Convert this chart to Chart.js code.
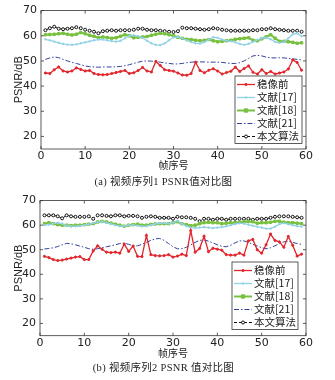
<!DOCTYPE html>
<html>
<head>
<meta charset="utf-8">
<script src="https://cdn.jsdelivr.net/npm/chart.js@4.4.1/dist/chart.umd.min.js"></script>
<style>
  html, body { margin: 0; padding: 0; background: #fff; }
  .panel { position: relative; width: 335px; height: 190px; }
  .panel canvas { display: block; }
  .caption {
    position: absolute; left: 0; width: 327px; text-align: center;
    font: 10.5px "Liberation Serif", "Noto Sans CJK SC", serif;
    line-height: 12px; color: #222; white-space: nowrap; letter-spacing: 0.3px;
  }
</style>
</head>
<body>
<div class="panel">
  <canvas id="chartA" width="335" height="190"></canvas>
  <div class="caption" style="top:176px">(a) 视频序列1 PSNR值对比图</div>
</div>
<div class="panel">
  <canvas id="chartB" width="335" height="190"></canvas>
  <div class="caption" style="top:172px">(b) 视频序列2 PSNR 值对比图</div>
</div>
<script>
// Frame numbers (x axis) and the five methods
const frames = [1, 2, 3, 4, 5, 6, 7, 8, 9, 10, 11, 12, 13, 14, 15, 16, 17, 18, 19, 20,
  21, 22, 23, 24, 25, 26, 27, 28, 29, 30, 31, 32, 33, 34, 35, 36, 37, 38, 39, 40,
  41, 42, 43, 44, 45, 46, 47, 48, 49, 50, 51, 52, 53, 54, 55, 56, 57, 58, 59];
const seriesNames = ["稳像前", "文献[17]", "文献[18]", "文献[21]", "本文算法"];
const xTicks = [0, 10, 20, 30, 40, 50, 60];
const yTicks = [20, 30, 40, 50, 60, 70];

// (a) video sequence 1
const seq1Before = [45.2, 45.0, 46.5, 47.6, 46.0, 45.6, 46.0, 47.2, 46.6, 46.0, 46.2, 45.0, 44.6, 44.5, 44.6, 45.0, 45.4, 45.8, 46.2, 45.0,
  45.3, 46.2, 47.4, 46.0, 45.6, 49.8, 48.2, 46.5, 46.2, 45.9, 45.2, 44.4, 44.3, 45.0, 49.5, 46.2, 45.3, 46.3, 46.9, 46.0,
  44.8, 45.4, 45.9, 47.5, 45.8, 47.0, 48.0, 45.5, 44.8, 46.5, 45.0, 45.8, 44.8, 45.2, 45.6, 46.8, 50.4, 49.4, 46.3];
const seq1Ref17 = [58.6, 58.2, 57.7, 57.2, 56.8, 56.5, 56.4, 56.6, 57.0, 57.4, 57.8, 58.2, 58.5, 58.5, 58.2, 57.9, 57.7, 58.0, 59.0, 60.0,
  60.2, 59.8, 59.2, 58.0, 57.0, 56.4, 56.3, 57.0, 58.2, 59.4, 59.6, 59.0, 58.2, 57.5, 57.0, 56.9, 57.5, 58.5, 59.4, 59.2,
  58.5, 58.0, 57.8, 57.4, 56.8, 56.4, 56.8, 57.6, 58.4, 59.0, 59.3, 58.6, 57.6, 57.2, 57.6, 59.0, 60.6, 61.0, 59.8];
const seq1Ref18 = [60.4, 60.5, 60.6, 60.8, 61.0, 60.6, 60.3, 60.6, 61.3, 60.8, 60.2, 59.8, 59.2, 59.5, 59.3, 59.0, 59.2, 59.8, 60.4, 60.0,
  59.2, 59.4, 59.5, 59.7, 60.2, 60.6, 61.0, 60.8, 60.4, 60.0, 59.4, 59.0, 58.6, 58.5, 58.2, 58.0, 58.2, 58.5, 58.0, 57.6,
  57.8, 58.0, 58.2, 58.6, 58.8, 59.0, 59.2, 58.2, 58.0, 58.8, 59.6, 60.4, 59.0, 57.8, 57.8, 57.6, 57.4, 57.0, 57.2];
const seq1Ref21 = [50.6, 51.2, 51.6, 51.3, 50.6, 50.0, 49.4, 49.0, 48.5, 48.0, 47.7, 47.6, 47.5, 47.6, 47.6, 47.6, 47.7, 47.8, 48.1, 48.5,
  49.0, 49.5, 49.9, 50.0, 49.9, 49.7, 49.5, 49.2, 49.0, 48.8, 48.8, 49.0, 49.3, 49.5, 49.6, 49.6, 49.6, 49.5, 49.5, 49.5,
  49.4, 49.2, 49.0, 49.0, 49.3, 50.0, 51.0, 52.0, 52.2, 52.0, 51.5, 51.2, 51.2, 51.3, 51.2, 51.0, 50.8, 50.6, 50.4];
const seq1Ours = [62.2, 63.0, 63.6, 62.8, 62.6, 62.8, 63.0, 63.4, 63.0, 62.4, 62.0, 61.6, 61.0, 61.8, 62.0, 62.2, 62.0, 62.2, 62.2, 62.2,
  62.4, 62.8, 62.8, 62.4, 62.2, 62.2, 62.0, 61.8, 61.6, 61.5, 61.8, 63.2, 63.0, 63.0, 62.8, 62.6, 62.4, 62.6, 63.0, 62.8,
  62.4, 62.2, 62.0, 62.0, 62.0, 62.0, 62.0, 62.2, 62.2, 62.6, 62.6, 63.0, 62.6, 62.4, 62.2, 62.0, 62.0, 62.0, 61.6];

// (b) video sequence 2
const seq2Before = [47.3, 46.8, 46.0, 45.6, 45.8, 46.2, 46.6, 47.0, 47.2, 46.0, 46.0, 49.5, 51.6, 50.2, 49.0, 48.8, 49.0, 48.6, 52.3, 49.3,
  51.5, 47.3, 47.2, 55.8, 48.0, 47.6, 47.5, 47.6, 48.0, 47.0, 47.4, 48.2, 47.6, 57.8, 49.0, 50.5, 55.5, 49.2, 50.6, 50.2,
  49.8, 48.0, 47.8, 47.8, 48.6, 47.8, 53.6, 54.2, 50.0, 48.6, 52.0, 56.4, 53.8, 53.2, 51.0, 55.4, 51.8, 47.4, 48.2];
const seq2Ref17 = [60.0, 60.2, 60.6, 61.0, 60.6, 59.8, 59.5, 59.5, 59.7, 60.0, 60.3, 60.8, 61.2, 61.4, 61.0, 60.5, 60.0, 59.6, 59.6, 60.0,
  60.0, 59.8, 59.5, 59.6, 60.0, 60.5, 60.8, 60.8, 60.6, 61.0, 61.8, 60.6, 59.6, 59.0, 58.8, 59.0, 59.2, 59.0, 58.8, 59.0,
  59.2, 59.5, 60.0, 60.4, 60.8, 60.6, 60.2, 59.8, 59.4, 59.0, 58.6, 58.6, 59.4, 60.4, 60.8, 60.4, 60.0, 59.6, 59.4];
const seq2Ref18 = [60.6, 61.0, 60.6, 60.2, 60.0, 60.0, 59.8, 60.0, 60.0, 60.2, 60.4, 60.6, 61.3, 61.5, 61.3, 60.8, 60.4, 60.0, 59.6, 60.0,
  60.2, 60.4, 60.0, 60.0, 60.3, 60.5, 60.6, 60.6, 60.6, 61.0, 61.4, 60.6, 60.2, 59.8, 60.0, 60.6, 61.0, 61.2, 61.0, 61.0,
  60.6, 60.8, 61.0, 61.0, 61.2, 61.4, 61.5, 61.4, 60.8, 61.0, 61.0, 61.2, 61.6, 61.6, 61.2, 61.0, 61.0, 60.8, 60.6];
const seq2Ref21 = [50.3, 50.5, 50.8, 51.3, 52.0, 52.6, 52.4, 52.0, 51.5, 51.0, 50.4, 50.2, 50.4, 50.8, 51.2, 51.6, 52.0, 52.5, 52.7, 52.2,
  51.6, 51.6, 52.2, 53.0, 53.8, 54.4, 54.6, 53.8, 52.5, 51.2, 50.4, 50.4, 51.0, 52.0, 53.0, 53.8, 54.0, 53.5, 52.8, 52.0,
  51.4, 51.2, 51.8, 52.8, 53.6, 53.6, 53.0, 52.2, 51.5, 50.8, 50.4, 50.8, 51.6, 52.5, 53.2, 53.4, 53.0, 52.5, 52.2];
const seq2Ours = [64.0, 64.0, 64.0, 63.6, 62.8, 64.0, 63.6, 63.4, 63.4, 63.4, 63.6, 62.6, 64.0, 64.0, 63.8, 63.6, 64.0, 64.0, 63.6, 63.8,
  63.8, 63.6, 63.0, 63.4, 63.6, 63.4, 63.0, 63.0, 63.0, 62.6, 63.4, 63.2, 63.2, 63.0, 62.6, 61.6, 62.6, 62.6, 62.2, 62.6,
  62.6, 62.2, 62.6, 62.6, 62.6, 62.6, 62.6, 62.2, 62.6, 62.6, 62.6, 63.0, 63.4, 63.6, 63.6, 63.6, 63.4, 63.2, 63.0];

// line look of each method (matlab style)
const looks = [
  { color: "#e1262c", width: 1.3, dash: [], marker: "circle", r: 1.1, fill: "#e1262c" },
  { color: "#92d2e6", width: 1.3, dash: [], marker: "circle", r: 0.8, fill: "#92d2e6" },
  { color: "#79c040", width: 2, dash: [], marker: "rect", r: 1.7, fill: "#79c040" },
  { color: "#34419a", width: 1, dash: [5, 2, 1.5, 2], marker: false, r: 0, fill: "#34419a" },
  { color: "#111111", width: 1, dash: [3, 2], marker: "circle", r: 1.5, fill: "#ffffff" },
];

const tickFont = { family: "DejaVu Sans", size: 11 };

// box + inward ticks on all four sides
const framePlugin = {
  id: "matFrame",
  afterDatasetsDraw(chart) {
    const { ctx, chartArea: a, scales: { x, y } } = chart;
    ctx.save();
    ctx.strokeStyle = "#333";
    ctx.lineWidth = 0.8;
    ctx.strokeRect(a.left, a.top, a.right - a.left, a.bottom - a.top);
    ctx.beginPath();
    xTicks.forEach((v) => {
      const px = x.getPixelForValue(v);
      ctx.moveTo(px, a.bottom); ctx.lineTo(px, a.bottom - 3);
      ctx.moveTo(px, a.top); ctx.lineTo(px, a.top + 3);
    });
    yTicks.forEach((v) => {
      const py = y.getPixelForValue(v);
      ctx.moveTo(a.left, py); ctx.lineTo(a.left + 3, py);
      ctx.moveTo(a.right, py); ctx.lineTo(a.right - 3, py);
    });
    ctx.stroke();
    ctx.restore();
  },
};

const drawMarker = (ctx, look, x, y) => {
  if (!look.marker) return;
  ctx.setLineDash([]);
  ctx.fillStyle = look.fill;
  ctx.strokeStyle = look.color;
  ctx.lineWidth = 1;
  ctx.beginPath();
  if (look.marker === "rect") {
    ctx.rect(x - look.r, y - look.r, look.r * 2, look.r * 2);
  } else {
    ctx.arc(x, y, look.r, 0, Math.PI * 2);
  }
  ctx.fill();
  ctx.stroke();
};

// legend in a framed box inside the plot
const boxLegend = (box) => ({
  id: "boxLegend",
  afterDatasetsDraw(chart) {
    const ctx = chart.ctx;
    ctx.save();
    ctx.fillStyle = "#fff";
    ctx.fillRect(box.x1, box.y1, box.x2 - box.x1, box.y2 - box.y1);
    ctx.strokeStyle = "#333";
    ctx.lineWidth = 0.8;
    ctx.strokeRect(box.x1, box.y1, box.x2 - box.x1, box.y2 - box.y1);
    chart.data.datasets.forEach((ds, i) => {
      const look = looks[i];
      const yy = box.y1 + box.first + i * box.step;
      const lx1 = box.x1 + 2, lx2 = box.x1 + 20;
      ctx.strokeStyle = look.color;
      ctx.lineWidth = look.width;
      ctx.setLineDash(look.dash);
      ctx.beginPath();
      ctx.moveTo(lx1, yy); ctx.lineTo(lx2, yy);
      ctx.stroke();
      drawMarker(ctx, look, (lx1 + lx2) / 2, yy);
      ctx.fillStyle = "#222";
      ctx.font = '10.5px "Noto Sans CJK SC"';
      ctx.textBaseline = "middle";
      ctx.textAlign = "left";
      ctx.fillText(ds.label, lx2 + 2, yy);
    });
    ctx.restore();
  },
});

const makeChart = (id, values, area, box) =>
  new Chart(document.getElementById(id), {
    type: "line",
    data: {
      datasets: seriesNames.map((name, i) => ({
        label: name,
        data: frames.map((f, j) => ({ x: f, y: values[i][j] })),
        borderColor: looks[i].color,
        borderWidth: looks[i].width,
        borderDash: looks[i].dash,
        pointStyle: looks[i].marker || "circle",
        pointRadius: looks[i].r,
        pointBackgroundColor: looks[i].fill,
        pointBorderColor: looks[i].color,
        pointBorderWidth: 1,
        tension: 0,
        fill: false,
      })),
    },
    options: {
      responsive: false,
      animation: false,
      layout: { padding: { left: 0, top: area.top, right: 335 - area.right, bottom: area.bottomPad } },
      plugins: { legend: { display: false }, tooltip: { enabled: false } },
      scales: {
        x: {
          type: "linear", min: 0, max: 60,
          afterBuildTicks: (s) => { s.ticks = xTicks.map((v) => ({ value: v })); },
          afterFit: (s) => { s.height = area.xH; },
          grid: { display: false, drawTicks: false },
          border: { display: false },
          ticks: { padding: 1, color: "#222", font: tickFont, maxRotation: 0 },
          title: { display: true, text: "帧序号", color: "#222", padding: 0,
            font: { family: "Noto Sans CJK SC", size: 10 } },
        },
        y: {
          min: 15, max: 70,
          afterBuildTicks: (s) => { s.ticks = yTicks.map((v) => ({ value: v })); },
          afterFit: (s) => { s.width = area.left; },
          grid: { display: false, drawTicks: false },
          border: { display: false },
          ticks: { padding: 4, color: "#222", font: tickFont },
          title: { display: true, text: "PSNR/dB", color: "#222", padding: { top: 12, bottom: 0 },
            font: { family: "Liberation Sans", size: 11 } },
        },
      },
    },
    plugins: [framePlugin, boxLegend(box)],
  });

makeChart("chartA", [seq1Before, seq1Ref17, seq1Ref18, seq1Ref21, seq1Ours],
  { left: 41, right: 306, top: 8, xH: 22, bottomPad: 19 },
  { x1: 235, y1: 76, x2: 302, y2: 143.5, first: 8.5, step: 13 });

makeChart("chartB", [seq2Before, seq2Ref17, seq2Ref18, seq2Ref21, seq2Ours],
  { left: 40, right: 306, top: 6.7, xH: 23.3, bottomPad: 21 },
  { x1: 232, y1: 72, x2: 298, y2: 139.5, first: 8.5, step: 13 });
</script>
</body>
</html>
